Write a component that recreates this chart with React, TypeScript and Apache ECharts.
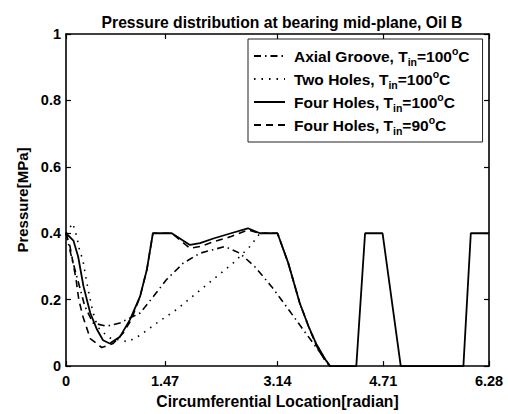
import React, { useEffect, useRef } from "react";
import * as echarts from "echarts";

const titleText = "Pressure distribution at bearing mid-plane, Oil B";
const xAxisName = "Circumferential Location[radian]";
const yAxisName = "Pressure[MPa]";
const xTicks = [0, 1.47, 3.14, 4.71, 6.28];

const seriesNames = [
  "Axial Groove, Tin=100°C",
  "Two Holes, Tin=100°C",
  "Four Holes, Tin=100°C",
  "Four Holes, Tin=90°C",
];

const axialX = [0, 0.08, 0.16, 0.28, 0.4, 0.6, 0.8, 1.1, 1.3, 1.49, 1.74, 1.99, 2.36, 2.58, 2.8, 3.05, 3.27, 3.52, 3.74, 3.92];
const axialY = [0.4, 0.33, 0.27, 0.18, 0.13, 0.12, 0.13, 0.16, 0.21, 0.26, 0.31, 0.34, 0.36, 0.34, 0.3, 0.24, 0.18, 0.11, 0.05, 0];

const twoX = [0, 0.1, 0.16, 0.2, 0.25, 0.31, 0.38, 0.43, 0.5, 0.65, 0.92, 1.1, 1.37, 1.64, 1.94, 2.24, 2.48, 2.73, 2.88, 3.14, 3.3, 3.47, 3.6, 3.72, 3.85, 3.92];
const twoY = [0.4, 0.43, 0.39, 0.35, 0.32, 0.25, 0.18, 0.14, 0.11, 0.085, 0.073, 0.093, 0.133, 0.17, 0.22, 0.27, 0.31, 0.36, 0.4, 0.4, 0.31, 0.19, 0.12, 0.065, 0.02, 0];

const four100X = [0, 0.11, 0.18, 0.26, 0.36, 0.46, 0.55, 0.65, 0.8, 0.95, 1.1, 1.2, 1.29, 1.57, 1.84, 1.99, 2.2, 2.45, 2.7, 2.88, 3.14, 3.3, 3.47, 3.6, 3.72, 3.85, 3.92, 4.31, 4.44, 4.7, 4.97, 5.9, 6.01, 6.28];
const four100Y = [0.4, 0.378, 0.33, 0.24, 0.16, 0.11, 0.078, 0.068, 0.088, 0.14, 0.21, 0.29, 0.4, 0.4, 0.365, 0.37, 0.385, 0.4, 0.415, 0.4, 0.4, 0.31, 0.19, 0.12, 0.065, 0.02, 0, 0, 0.4, 0.4, 0, 0, 0.4, 0.4];

const four90X = [0, 0.06, 0.15, 0.19, 0.25, 0.36, 0.53, 0.7, 0.85, 0.97, 1.1, 1.2, 1.29, 1.57, 1.84, 1.99, 2.2, 2.45, 2.7, 2.88, 3.14, 3.3, 3.47, 3.6, 3.72, 3.85, 3.92];
const four90Y = [0.4, 0.36, 0.26, 0.2, 0.15, 0.083, 0.056, 0.068, 0.1, 0.14, 0.21, 0.29, 0.4, 0.4, 0.355, 0.36, 0.375, 0.39, 0.41, 0.4, 0.4, 0.31, 0.19, 0.12, 0.06, 0.015, 0];

const zip = (xs: number[], ys: number[]) => xs.map((x, i) => [x, ys[i]]);

const FONT = "'Liberation Sans', Arial, Helvetica, sans-serif";

export default function App() {
  const ref = useRef<HTMLDivElement>(null);
  useEffect(() => {
    if (!ref.current) return;
    const chart = echarts.init(ref.current, undefined, { renderer: "svg" });
    const dashes: any[] = [[7, 4, 1.5, 4], [1.5, 6], "solid", [7, 5]];
    const datas = [zip(axialX, axialY), zip(twoX, twoY), zip(four100X, four100Y), zip(four90X, four90Y)];
    const axisLine = { show: true, onZero: false, lineStyle: { color: "#000", width: 1.6 } };
    const tick = { show: true, inside: true, length: 5, lineStyle: { color: "#000", width: 1.2 } };
    chart.setOption({
      animation: false,
      backgroundColor: "#fff",
      title: {
        text: titleText,
        left: 277,
        top: 9,
        textAlign: "center",
        textStyle: { fontFamily: FONT, fontWeight: "bold", fontSize: 15.7, color: "#000" },
      },
      grid: { left: 66, right: 19, top: 34, bottom: 46, containLabel: false },
      legend: {
        orient: "vertical",
        left: 248,
        top: 39,
        padding: [6, 13, 6, 5],
        itemGap: 1,
        itemWidth: 31,
        itemHeight: 14,
        borderColor: "#222",
        borderWidth: 1,
        backgroundColor: "#fff",
        itemStyle: { opacity: 0 },
        data: seriesNames,
        formatter: (name: string) => name.replace("Tin", "T{sub|in}").replace("°", "{sup|o}"),
        textStyle: {
          fontFamily: FONT,
          fontWeight: "bold",
          fontSize: 15.5,
          lineHeight: 22,
          color: "#000",
          padding: [0, 0, 0, 4],
          rich: {
            sub: { fontFamily: FONT, fontWeight: "bold", fontSize: 10.5, lineHeight: 11, verticalAlign: "bottom", color: "#000" },
            sup: { fontFamily: FONT, fontWeight: "bold", fontSize: 10.5, lineHeight: 11, verticalAlign: "top", color: "#000" },
          },
        },
      },
      xAxis: [
        {
          type: "value",
          min: 0,
          max: 6.28,
          position: "bottom",
          name: xAxisName,
          nameLocation: "middle",
          nameGap: 24,
          nameTextStyle: { fontFamily: FONT, fontWeight: "bold", fontSize: 15.7, color: "#000" },
          axisLine,
          axisTick: { ...tick, customValues: xTicks },
          axisLabel: {
            customValues: xTicks,
            formatter: (v: number) => String(v),
            fontFamily: FONT,
            fontWeight: "bold",
            fontSize: 14.5,
            color: "#000",
            margin: 7,
          },
          splitLine: { show: false },
        },
        {
          type: "value",
          min: 0,
          max: 6.28,
          position: "top",
          axisLine,
          axisTick: { ...tick, customValues: xTicks },
          axisLabel: { show: false },
          splitLine: { show: false },
        },
      ],
      yAxis: [
        {
          type: "value",
          min: 0,
          max: 1,
          interval: 0.2,
          position: "left",
          name: yAxisName,
          nameLocation: "middle",
          nameGap: 36,
          nameRotate: 90,
          nameTextStyle: { fontFamily: FONT, fontWeight: "bold", fontSize: 15, color: "#000" },
          axisLine,
          axisTick: tick,
          axisLabel: { fontFamily: FONT, fontWeight: "bold", fontSize: 14.5, color: "#000", margin: 5 },
          splitLine: { show: false },
        },
        {
          type: "value",
          min: 0,
          max: 1,
          interval: 0.2,
          position: "right",
          axisLine,
          axisTick: tick,
          axisLabel: { show: false },
          splitLine: { show: false },
        },
      ],
      series: seriesNames.map((name, i) => ({
        name,
        type: "line",
        data: datas[i],
        symbol: "none",
        showSymbol: false,
        xAxisIndex: 0,
        yAxisIndex: 0,
        z: i === 2 ? 4 : 3,
        lineStyle: { color: "#000", width: i === 2 ? 1.8 : 1.6, type: dashes[i] },
        itemStyle: { color: "#000" },
      })),
    });
    return () => chart.dispose();
  }, []);
  return <div ref={ref} style={{ position: "absolute", left: 0, top: 0, width: 508, height: 414 }} />;
}
